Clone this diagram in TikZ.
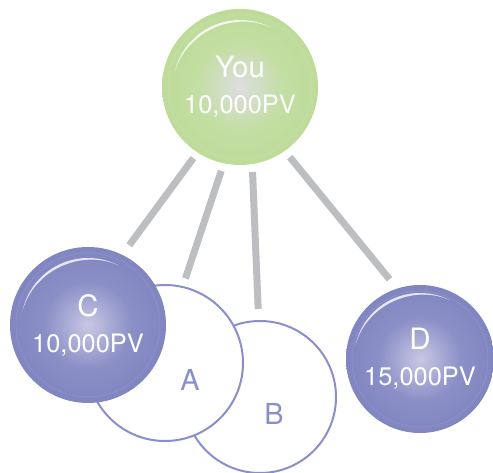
\documentclass[tikz,border=0pt]{standalone}
\usepackage{fontspec}
\setmainfont{TeX Gyre Heros}

\definecolor{linkgray}{HTML}{BDBEC1}
\definecolor{ringblue}{HTML}{8A8FCA}
\definecolor{purpleedge}{HTML}{6A70B4}
\definecolor{purplemid}{HTML}{8A8FC6}
\definecolor{purplecore}{HTML}{C8C8E4}
\definecolor{greenedge}{HTML}{B3D588}
\definecolor{greenmid}{HTML}{C3DEA2}
\definecolor{greencore}{HTML}{DCDEE0}

% soft balls, lighter in the middle
\pgfdeclareradialshading{ballpurple}{\pgfpoint{0bp}{0bp}}{color(0bp)=(purplecore); color(14bp)=(purplemid); color(50bp)=(purpleedge)}
\pgfdeclareradialshading{ballgreen}{\pgfpoint{0bp}{0bp}}{color(0bp)=(greencore); color(14bp)=(greenmid); color(50bp)=(greenedge)}

\tikzset{
  ball/.style={circle,inner sep=0pt,outer sep=0pt,text=white,align=center,
    font=\fontsize{25.5}{36}\selectfont},
  open/.style={circle,inner sep=0pt,outer sep=0pt,fill=white,draw=ringblue,
    line width=2bp,text=ringblue,font=\fontsize{29}{36}\selectfont},
  link/.style={draw=linkgray,line width=7bp},
}
\newcommand\headline[1]{{\fontsize{29.5}{36}\selectfont #1}}

\begin{document}
\begin{tikzpicture}[x=1bp,y=1bp]
\useasboundingbox (0,0) rectangle (493,473);

% top member
\node[ball,shading=ballgreen,minimum size=156bp] (you) at (240,386) {\headline{You}\\10,000PV};

% the two open legs, B under A
\node[open,minimum size=152bp] (b) at (260,76) {};
\node at (274,59) [text=ringblue,font=\fontsize{29}{36}\selectfont] (blab) {B};
\node[open,minimum size=156bp] (a) at (165,110) {};
\node at (190,93) [text=ringblue,font=\fontsize{29}{36}\selectfont] (alab) {A};

% C and D
\node[ball,shading=ballpurple,minimum size=156bp] (c) at (88,148) {\headline{C}\\10,000PV};
\node[ball,shading=ballpurple,minimum size=148bp] (d) at (420,114) {\headline{D}\\15,000PV};

% faint rim and gloss on the shaded balls
\foreach \n/\r/\g in {you/78/67,c/78/67,d/74/66}{
  \draw[white,opacity=.07,line width=1bp] (\n.center) circle[radius=\r-6];
  \fill[white,opacity=.8] ([shift={(168:\g)}]\n.center)
    arc[start angle=168,end angle=63,radius=\g] to[bend right=49.5] ([shift={(168:\g)}]\n.center);}

% links
\draw[link,shorten <=7bp,shorten >=12bp] (you.237) -- (c.64);
\draw[link,shorten <=8bp,shorten >=9bp] (you.258) -- (a.77);
\draw[link,shorten <=8bp,shorten >=12bp] (you.279) -- (b.91);
\draw[link,shorten <=8bp,shorten >=12bp] (you.305) -- (d.108);
\end{tikzpicture}
\end{document}
